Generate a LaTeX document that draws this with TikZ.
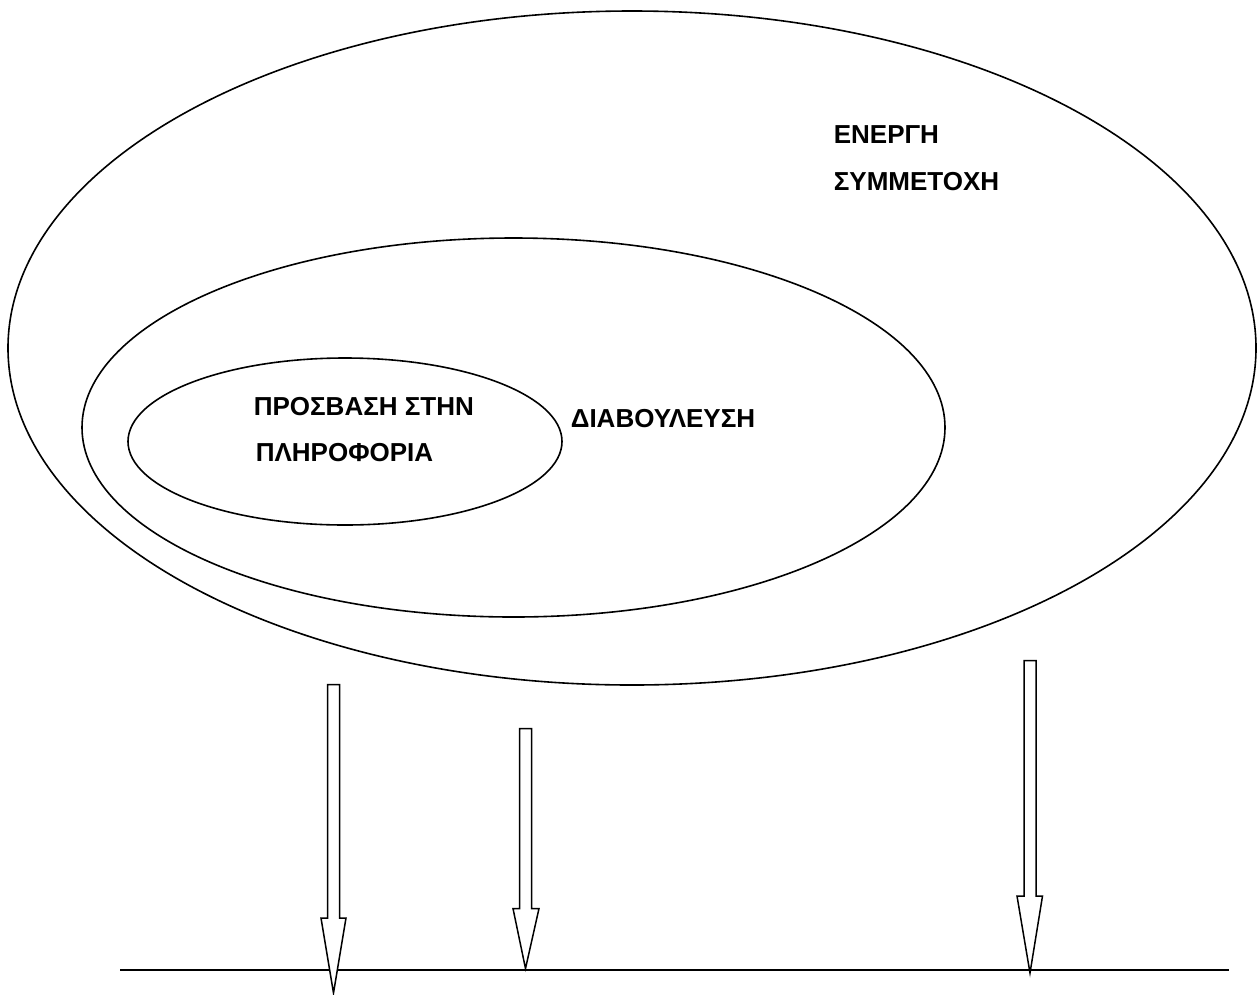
\documentclass[tikz,border=0pt]{standalone}
\usepackage{fontspec}
\setmainfont{Liberation Sans}
\newfontfamily\lblfont{Liberation Sans Bold}
\begin{document}
\begin{tikzpicture}[x=1pt,y=-1pt,line width=1.6pt,
  lbl/.style={anchor=base west,inner sep=0pt,font=\lblfont\fontsize{26}{30}\selectfont},
  blockarrow/.style={draw,fill=white,line join=miter,line width=1.5pt}]
\useasboundingbox (0,0) rectangle (1258,994);
% ellipses
\draw (632,348) ellipse [x radius=624pt, y radius=337pt];
\draw (513.5,427.5) ellipse [x radius=431.5pt, y radius=189.5pt];
\draw (345,441.5) ellipse [x radius=217pt, y radius=83.5pt];
% labels
\node[lbl] (enrg) at (833,143) {ΕΝΕΡΓΗ};
\node[lbl] (symm) at (833,190) {ΣΥΜΜΕΤΟΧΗ};
\node[lbl] (diab) at (570,427) {ΔΙΑΒΟΥΛΕΥΣΗ};
\node[lbl] (pros) at (253,415) {ΠΡΟΣΒΑΣΗ ΣΤΗΝ};
\node[lbl] (plir) at (255,461) {ΠΛΗΡΟΦΟΡΙΑ};
% base line
\coordinate (L1) at (120,970);
\coordinate (L2) at (1229,970);
\draw (L1) -- (L2);
% block arrows
\draw[blockarrow] (327.5,684.5) -- (339.5,684.5) -- (339.5,918) -- (346,918)
  -- (333.5,993) -- (321,918) -- (327.5,918) -- cycle;
\draw[blockarrow] (519.5,728.5) -- (531.5,728.5) -- (531.5,908.5) -- (539,908.5)
  -- (525.5,968.5) -- (513,908.5) -- (519.5,908.5) -- cycle;
\draw[blockarrow] (1024,660.5) -- (1036,660.5) -- (1036,896) -- (1042.5,896)
  -- (1030,973) -- (1017,896) -- (1024,896) -- cycle;
\end{tikzpicture}
\end{document}
